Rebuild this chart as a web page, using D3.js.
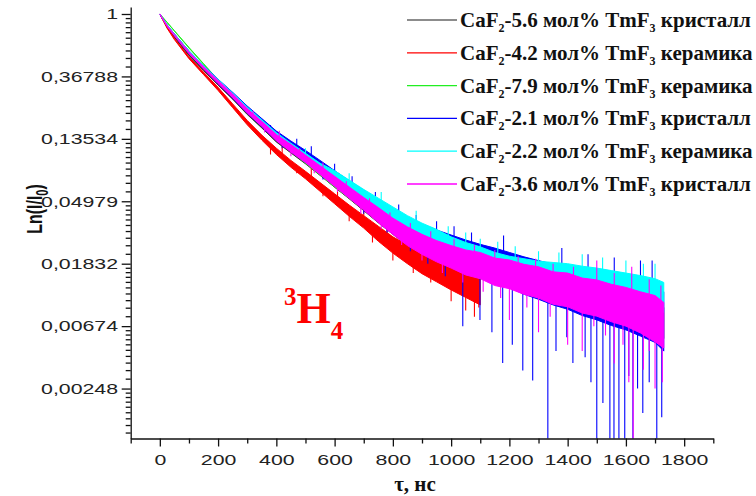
<!DOCTYPE html>
<html>
<head>
<meta charset="utf-8">
<script src="https://cdn.jsdelivr.net/npm/d3@7"></script>
<style>
  body { margin: 0; background: #fff; }
  .tick text { font-family: 'Liberation Sans', Arial, sans-serif; font-size: 15px; fill: #222; }
  .axis path, .axis line { stroke: #111; stroke-width: 1.3; }
</style>
</head>
<body>
<div id="target"></div>
<script>
// time samples, ns
const times = [0, 25, 50, 100, 150, 200, 250, 300, 350, 400, 450, 500, 550, 600, 650, 700, 750, 800, 850, 900,
  950, 1000, 1050, 1100, 1150, 1200, 1250, 1300, 1350, 1400, 1450, 1500, 1550, 1600, 1650, 1700, 1730];

// noise envelopes of ln(I/I0) (lower and upper edge of each trace)
const blackLo = [-0.005, -0.215, -0.375, -0.665, -0.905, -1.14, -1.365, -1.61, -1.825, -2.05, -2.225, -2.40, -2.585, -2.775, -2.96, -3.15, -3.345, -3.53, -3.71, -3.85,
  -3.91, -4.00, -4.09, -4.17, -4.26, -4.32, -4.39, -4.47, -4.55, -4.60, -4.68, -4.74, -4.81, -4.89, -4.97, -5.09, -5.20];
const blackHi = [0, -0.195, -0.355, -0.635, -0.875, -1.10, -1.315, -1.55, -1.755, -1.97, -2.135, -2.30, -2.475, -2.645, -2.82, -2.99, -3.155, -3.33, -3.47, -3.59,
  -3.63, -3.71, -3.78, -3.85, -3.92, -3.97, -4.03, -4.09, -4.15, -4.20, -4.26, -4.32, -4.37, -4.43, -4.50, -4.60, -4.70];

const redLo = [-0.005, -0.23, -0.41, -0.715, -0.97, -1.225, -1.50, -1.775, -2.02, -2.25, -2.455, -2.64, -2.84, -3.04, -3.24, -3.43, -3.64, -3.83, -4.00, -4.16,
  -4.29, -4.42, -4.54, -4.66];
const redHi = [0, -0.21, -0.39, -0.685, -0.93, -1.175, -1.44, -1.705, -1.94, -2.15, -2.345, -2.52, -2.70, -2.88, -3.06, -3.23, -3.40, -3.57, -3.70, -3.82,
  -3.93, -4.04, -4.14, -4.22];

const greenLo = [-0.003, -0.138, -0.273, -0.545, -0.805, -1.065, -1.31, -1.555, -1.78, -2.00, -2.20, -2.39, -2.58, -2.77, -2.95, -3.13, -3.30, -3.48, -3.65, -3.82,
  -3.94, -4.05, -4.15, -4.24];
const greenHi = [0, -0.132, -0.267, -0.535, -0.795, -1.055, -1.29, -1.525, -1.74, -1.94, -2.12, -2.29, -2.46, -2.63, -2.79, -2.95, -3.12, -3.28, -3.45, -3.62,
  -3.74, -3.85, -3.95, -4.04];

const blueLo = [-0.005, -0.195, -0.342, -0.63, -0.875, -1.115, -1.345, -1.585, -1.805, -2.025, -2.205, -2.375, -2.555, -2.75, -2.93, -3.115, -3.30, -3.48, -3.65, -3.79,
  -3.92, -4.01, -4.13, -4.21, -4.31, -4.38, -4.49, -4.57, -4.66, -4.73, -4.83, -4.90, -4.99, -5.06, -5.16, -5.26, -5.40];
const blueHi = [0, -0.175, -0.318, -0.59, -0.825, -1.045, -1.255, -1.475, -1.675, -1.875, -2.035, -2.185, -2.345, -2.51, -2.67, -2.825, -2.98, -3.12, -3.25, -3.37,
  -3.46, -3.54, -3.62, -3.69, -3.75, -3.82, -3.89, -3.95, -4.01, -4.07, -4.12, -4.18, -4.22, -4.27, -4.33, -4.39, -4.45];

const cyanLo = [-0.005, -0.19, -0.34, -0.61, -0.855, -1.09, -1.315, -1.55, -1.765, -1.98, -2.17, -2.33, -2.51, -2.65, -2.82, -2.99, -3.15, -3.30, -3.45, -3.59,
  -3.70, -3.81, -3.91, -3.99, -4.08, -4.15, -4.20, -4.25, -4.28, -4.32, -4.36, -4.41, -4.47, -4.53, -4.59, -4.67, -4.78];
const cyanHi = [0, -0.17, -0.32, -0.59, -0.825, -1.05, -1.265, -1.49, -1.695, -1.90, -2.07, -2.23, -2.39, -2.51, -2.66, -2.81, -2.95, -3.09, -3.23, -3.35,
  -3.45, -3.57, -3.66, -3.73, -3.82, -3.88, -3.92, -3.96, -3.98, -4.00, -4.04, -4.07, -4.11, -4.15, -4.19, -4.24, -4.30];

const magentaLo = [-0.005, -0.20, -0.35, -0.635, -0.88, -1.115, -1.34, -1.585, -1.80, -2.03, -2.21, -2.38, -2.57, -2.76, -2.95, -3.14, -3.34, -3.53, -3.71, -3.85,
  -3.97, -4.07, -4.18, -4.24, -4.35, -4.40, -4.49, -4.55, -4.65, -4.69, -4.79, -4.84, -4.93, -5.00, -5.11, -5.25, -5.35];
const magentaHi = [0, -0.18, -0.33, -0.605, -0.84, -1.065, -1.28, -1.515, -1.72, -1.93, -2.09, -2.26, -2.43, -2.60, -2.77, -2.94, -3.10, -3.27, -3.41, -3.53,
  -3.63, -3.71, -3.78, -3.82, -3.91, -3.94, -4.01, -4.05, -4.13, -4.15, -4.23, -4.26, -4.33, -4.38, -4.45, -4.51, -4.62];

// single noise spikes [time, ln(I/I0) at the tip]
const redSpikes = [[420, -2.1], [520, -2.45], [610, -2.8], [700, -3.1], [780, -3.35], [840, -3.5], [900, -3.65], [950, -3.8],
  [1020, -3.9], [1070, -4.0], [380, -2.25], [470, -2.55], [560, -2.92], [650, -3.32], [730, -3.66], [800, -3.95], [870, -4.15],
  [930, -4.3], [1000, -4.6], [1050, -4.75], [1080, -4.85], [1095, -4.7]];
const blueSpikes = [[380, -1.78], [470, -2.0], [520, -2.12], [600, -2.4], [660, -2.6], [740, -2.85], [820, -3.05], [880, -3.22],
  [950, -3.32], [1010, -3.4], [1070, -3.5], [420, -2.15], [560, -2.65], [700, -3.2], [780, -3.5], [860, -3.8], [920, -4.0], [980, -4.2],
  [1099, -4.90], [1177, -5.59], [1246, -5.71], [1280, -5.87], [1332, -6.8], [1397, -5.18], [1418, -5.59],
  [1500, -6.8], [1521, -6.23], [1545, -6.8], [1559, -6.8], [1576, -6.8], [1596, -6.8], [1624, -6.8], [1658, -6.39],
  [1706, -6.8], [1723, -6.46], [1040, -5.0], [1140, -5.1], [1210, -5.3], [1360, -5.4], [1460, -5.5], [1480, -5.9],
  [1610, -5.8], [1680, -5.9], [1640, -6.0], [1180, -3.55], [1380, -3.75], [1470, -3.85], [1560, -3.9], [1650, -3.95], [1690, -3.95]];
const cyanSpikes = [[500, -2.15], [650, -2.55], [760, -2.85], [880, -3.15], [990, -3.4], [1050, -3.5], [1100, -3.6], [1160, -3.65],
  [1220, -3.72], [1300, -3.8], [1370, -3.82], [1450, -3.85], [1520, -3.9], [1600, -3.95], [1660, -4.0], [1700, -4.0],
  [1200, -4.3], [1400, -4.45], [1650, -4.75]];
const magentaSpikes = [[320, -1.55], [410, -1.87], [480, -2.15], [560, -2.38], [640, -2.68], [720, -2.95], [790, -3.18], [860, -3.35],
  [930, -3.48], [1010, -3.6], [1080, -3.7], [1150, -3.78], [1230, -3.88], [1290, -3.92], [1350, -4.0], [1420, -4.05], [1500, -3.95],
  [1560, -4.15], [1620, -4.05], [1680, -4.25], [1720, -4.35], [360, -1.9], [450, -2.28], [530, -2.55], [610, -2.85], [690, -3.2],
  [760, -3.45], [830, -3.7], [900, -3.95], [970, -4.15], [1040, -4.3], [1110, -4.45], [1170, -4.55], [1200, -4.9], [1260, -4.7],
  [1300, -5.1], [1340, -4.85], [1400, -5.3], [1450, -5.4], [1490, -5.0], [1530, -5.15], [1560, -5.6], [1590, -5.3], [1610, -5.9],
  [1625, -6.8], [1660, -5.7], [1680, -5.4], [1700, -6.0], [1725, -5.9]];

const concentrations = ['5.6', '4.2', '7.9', '2.1', '2.2', '3.6'];
const forms = ['кристалл', 'керамика', 'керамика', 'кристалл', 'керамика', 'кристалл'];
const colors = ['#333333', '#ff0000', '#22ee22', '#0000ff', '#00ffff', '#ff00ff'];

const yTicks = [0, -1, -2, -3, -4, -5, -6];
const yTickLabels = ['1', '0,36788', '0,13534', '0,04979', '0,01832', '0,00674', '0,00248'];
const xTicks = [0, 200, 400, 600, 800, 1000, 1200, 1400, 1600, 1800];
const xMinorTicks = [-100, 100, 300, 500, 700, 900, 1100, 1300, 1500, 1700, 1900];

const width = 756;
const height = 496;
const margin = {top: 7, left: 130.7, right: 42.7, bottom: 57.5};
const innerW = width - margin.left - margin.right;
const innerH = height - margin.top - margin.bottom;
const stretch = 1.42; // tick labels are drawn wide

const svg = d3.select('#target')
  .append('svg')
  .attr('width', width)
  .attr('height', height);

const g = svg.append('g')
  .attr('transform', `translate(${margin.left},${margin.top})`);

const x = d3.scaleLinear().domain([-100, 1900]).range([0, innerW]);
const y = d3.scaleLinear().domain([-6.8, 0.112]).range([innerH, 0]);

svg.append('defs').append('clipPath').attr('id', 'plot')
  .append('rect').attr('width', innerW).attr('height', innerH + 0.5);

const series = [
  {lo: blackLo, hi: blackHi, spikes: []},
  {lo: redLo, hi: redHi, spikes: redSpikes},
  {lo: greenLo, hi: greenHi, spikes: []},
  {lo: blueLo, hi: blueHi, spikes: blueSpikes},
  {lo: cyanLo, hi: cyanHi, spikes: cyanSpikes},
  {lo: magentaLo, hi: magentaHi, spikes: magentaSpikes}
];

const area = d3.area()
  .x((d) => x(d.t))
  .y0((d) => y(d.lo))
  .y1((d) => y(d.hi));

const traces = g.append('g').attr('clip-path', 'url(#plot)');

series.forEach((s, i) => {
  const pts = s.lo.map((v, k) => ({t: times[k], lo: v, hi: s.hi[k]}));
  traces.append('path')
    .datum(pts)
    .attr('d', area)
    .attr('fill', colors[i])
    .attr('stroke', colors[i])
    .attr('stroke-width', 1)
    .attr('stroke-linejoin', 'round');
  // spikes start from the middle of the band
  const mid = d3.scaleLinear()
    .domain(pts.map((d) => d.t))
    .range(pts.map((d) => (d.lo + d.hi) / 2));
  traces.selectAll(null)
    .data(s.spikes)
    .enter()
    .append('line')
    .attr('x1', (d) => x(d[0]))
    .attr('x2', (d) => x(d[0]))
    .attr('y1', (d) => y(mid(d[0])))
    .attr('y2', (d) => y(d[1]))
    .attr('stroke', colors[i])
    .attr('stroke-width', 1.1);
});

// axes
const yAxis = g.append('g').attr('class', 'axis');
yAxis.call(d3.axisLeft(y).tickValues(yTicks).tickFormat((d, i) => yTickLabels[i])
  .tickSize(9).tickSizeOuter(0));
yAxis.selectAll('.tick text')
  .attr('x', -12.7 / stretch)
  .attr('transform', `scale(${stretch},1)`);

// minor ticks: linear steps between e^(k-1) and e^k
const yMinor = [];
for (let k = 0; k >= -6; k--) {
  const a = Math.exp(k - 1), b = Math.exp(k);
  for (let j = 1; j <= 9; j++) {
    const v = Math.log(a + j * (b - a) / 10);
    if (v > -6.8) yMinor.push(v);
  }
}
g.append('g').attr('class', 'axis')
  .call(d3.axisLeft(y).tickValues(yMinor).tickFormat('').tickSize(5).tickSizeOuter(0))
  .select('.domain').remove();

const xAxis = g.append('g').attr('class', 'axis')
  .attr('transform', `translate(0,${innerH})`);
xAxis.call(d3.axisBottom(x).tickValues(xTicks).tickFormat(d3.format('d'))
  .tickSize(8).tickSizeOuter(0).tickPadding(8));
xAxis.selectAll('.tick text')
  .attr('transform', `scale(${stretch},1)`);
g.append('g').attr('class', 'axis')
  .attr('transform', `translate(0,${innerH})`)
  .call(d3.axisBottom(x).tickValues(xMinorTicks).tickFormat('').tickSize(5).tickSizeOuter(0))
  .select('.domain').remove();

// axis titles
const yTitle = svg.append('text')
  .attr('transform', `translate(42,209) rotate(-90) scale(1,${stretch})`)
  .attr('text-anchor', 'middle')
  .style('font-family', "'Liberation Sans', Arial, sans-serif")
  .style('font-weight', 'bold')
  .style('font-size', '16px')
  .attr('fill', '#111');
yTitle.append('tspan').text('Ln(I/I');
yTitle.append('tspan').attr('dy', 4).style('font-size', '11px').text('0');
yTitle.append('tspan').attr('dy', -4).text(')');

svg.append('text')
  .attr('x', 415)
  .attr('y', 491)
  .attr('text-anchor', 'middle')
  .style('font-family', "'Liberation Serif', 'Times New Roman', serif")
  .style('font-weight', 'bold')
  .style('font-size', '21px')
  .attr('fill', '#111')
  .text('τ, нс');

// legend
const legend = svg.append('g').attr('transform', 'translate(407,20)');
concentrations.forEach((c, i) => {
  const row = legend.append('g').attr('transform', `translate(0,${i * 32.8})`);
  row.append('line')
    .attr('x1', 0).attr('x2', 50)
    .attr('stroke', i === 0 ? '#666' : colors[i])
    .attr('stroke-width', 1.3);
  const t = row.append('text')
    .attr('x', 53)
    .attr('y', 7)
    .style('font-family', "'Liberation Serif', 'Times New Roman', serif")
    .style('font-weight', 'bold')
    .style('font-size', '21px')
    .attr('fill', '#111');
  t.append('tspan').text('CaF');
  t.append('tspan').attr('dy', 5).style('font-size', '12px').text('2');
  t.append('tspan').attr('dy', -5).text(`-${c} мол% TmF`);
  t.append('tspan').attr('dy', 5).style('font-size', '12px').text('3');
  t.append('tspan').attr('dy', -5).text(` ${forms[i]}`);
});

// level label
const lvl = svg.append('text')
  .attr('x', 284)
  .attr('y', 323)
  .style('font-family', "'Liberation Serif', 'Times New Roman', serif")
  .style('font-weight', 'bold')
  .attr('fill', '#ff0000');
lvl.append('tspan').attr('dy', -18).style('font-size', '25px').text('3');
lvl.append('tspan').attr('dy', 18).style('font-size', '44px').text('H');
lvl.append('tspan').attr('dy', 16).style('font-size', '25px').text('4');
</script>
</body>
</html>
